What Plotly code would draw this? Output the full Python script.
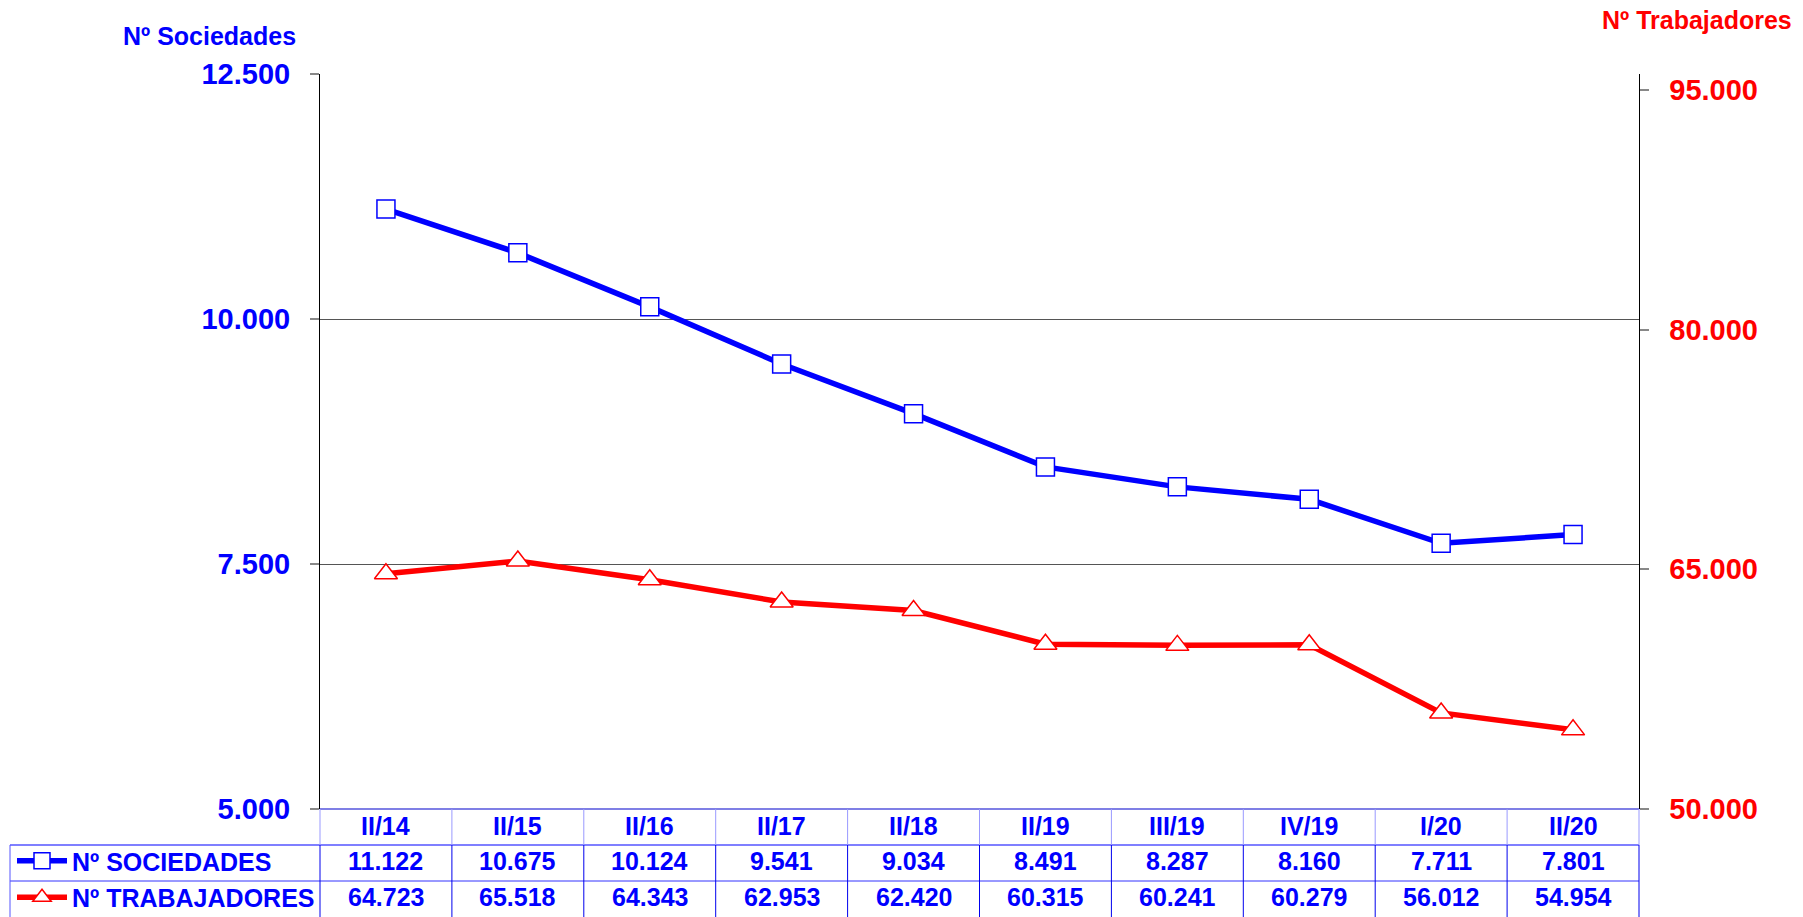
import plotly.graph_objects as go

categories = ["II/14", "II/15", "II/16", "II/17", "II/18", "II/19", "III/19", "IV/19", "I/20", "II/20"]
sociedades = [11122, 10675, 10124, 9541, 9034, 8491, 8287, 8160, 7711, 7801]
trabajadores = [64723, 65518, 64343, 62953, 62420, 60315, 60241, 60279, 56012, 54954]
series_names = ["Nº SOCIEDADES", "Nº TRABAJADORES"]
left_title = "Nº Sociedades"
right_title = "Nº Trabajadores"

BLUE = "#0000FF"
RED = "#FF0000"
FONT = "Liberation Sans, Arial, sans-serif"

W, H = 1803, 917
ML, MR, MT, MB = 320, 164, 74, 108
PW = W - ML - MR
PH = H - MT - MB


def py(pix):
    """pixel y (from top) -> paper y"""
    return (H - MB - pix) / PH


def px(pix):
    return (pix - ML) / PW


def fmt(v):
    return f"{v:,}".replace(",", ".")


fig = go.Figure()
fig.add_trace(go.Scatter(
    x=categories, y=sociedades, name=series_names[0], yaxis="y", legendgroup="a",
    mode="lines+markers",
    line=dict(color=BLUE, width=5.5),
    marker=dict(symbol="square", size=18, color="white", line=dict(color=BLUE, width=1.5)),
))
fig.add_trace(go.Scatter(
    x=categories, y=trabajadores, name=series_names[1], yaxis="y2", legendgroup="b",
    mode="lines+markers",
    line=dict(color=RED, width=5.5),
    marker=dict(symbol="triangle-up", size=20, color="white", line=dict(color=RED, width=1.5)),
))

n = len(categories)
shapes = []
shapes.append(dict(type="line", xref="paper", yref="paper", x0=0, x1=1, y0=py(809), y1=py(809),
                   line=dict(color="#0000CC", width=1.2)))
shapes.append(dict(type="line", xref="paper", yref="paper", x0=px(10), x1=1, y0=py(845), y1=py(845),
                   line=dict(color="#5555FF", width=1.5)))
shapes.append(dict(type="line", xref="paper", yref="paper", x0=px(10), x1=1, y0=py(881), y1=py(881),
                   line=dict(color="#3333FF", width=1)))
for k in range(n + 1):
    xb = k / n
    shapes.append(dict(type="line", xref="paper", yref="paper", x0=xb, x1=xb, y0=py(809), y1=py(845),
                       line=dict(color="#9999FF", width=1)))
    shapes.append(dict(type="line", xref="paper", yref="paper", x0=xb, x1=xb, y0=py(845), y1=py(917),
                       line=dict(color="#0000EE", width=1)))
shapes.append(dict(type="line", xref="paper", yref="paper", x0=px(10), x1=px(10), y0=py(845), y1=py(917),
                   line=dict(color="#5555FF", width=1)))

TF = dict(family=FONT, size=25, color=BLUE, weight="bold")
annotations = []
for i, c in enumerate(categories):
    annotations.append(dict(x=c, xref="x", y=py(825.5), yref="paper", text=c, showarrow=False,
                            font=TF, xanchor="center", yanchor="middle"))
    annotations.append(dict(x=c, xref="x", y=py(861), yref="paper", text=fmt(sociedades[i]), showarrow=False,
                            font=TF, xanchor="center", yanchor="middle"))
    annotations.append(dict(x=c, xref="x", y=py(897), yref="paper", text=fmt(trabajadores[i]), showarrow=False,
                            font=TF, xanchor="center", yanchor="middle"))

annotations.append(dict(x=px(298), xref="paper", y=py(36), yref="paper", text=left_title, showarrow=False,
                        font=dict(family=FONT, size=25, color=BLUE, weight="bold"),
                        xanchor="right", yanchor="middle"))
annotations.append(dict(x=px(1794), xref="paper", y=py(20), yref="paper", text=right_title, showarrow=False,
                        font=dict(family=FONT, size=25, color=RED, weight="bold"),
                        xanchor="right", yanchor="middle"))

fig.update_layout(
    width=W, height=H, autosize=False,
    margin=dict(l=ML, r=MR, t=MT, b=MB, pad=0, autoexpand=False),
    paper_bgcolor="white", plot_bgcolor="white",
    separators=",.",
    showlegend=True,
    legend=dict(x=px(12), xanchor="left", y=py(879), yanchor="middle",
                traceorder="grouped", tracegroupgap=1, itemwidth=50,
                font=dict(family=FONT, size=25, color=BLUE, weight="bold"),
                bgcolor="rgba(0,0,0,0)", borderwidth=0),
    xaxis=dict(type="category", range=[-0.5, n - 0.5], showticklabels=False, ticks="",
               showgrid=False, showline=False, zeroline=False, fixedrange=True),
    yaxis=dict(range=[5000, 12500], tick0=5000, dtick=2500, tickformat=",d",
               showgrid=True, gridcolor="#555555", gridwidth=1,
               showline=True, linecolor="black", linewidth=1, zeroline=False,
               ticks="outside", ticklen=9, tickcolor="#888888", tickwidth=1.5,
               ticklabelstandoff=14,
               tickfont=dict(family=FONT, size=29, color=BLUE, weight="bold")),
    yaxis2=dict(range=[50000, 96000], tick0=50000, dtick=15000, tickformat=",d",
                tickprefix="\u2002",
                overlaying="y", side="right", showgrid=False, zeroline=False,
                showline=True, linecolor="black", linewidth=1,
                ticks="outside", ticklen=9, tickcolor="#888888", tickwidth=1.5,
                tickfont=dict(family=FONT, size=29, color=RED, weight="bold")),
    shapes=shapes,
    annotations=annotations,
    hovermode=False,
)

fig.write_html("out.html", config={"displayModeBar": False},
               post_script="document.body.style.margin='0';")
